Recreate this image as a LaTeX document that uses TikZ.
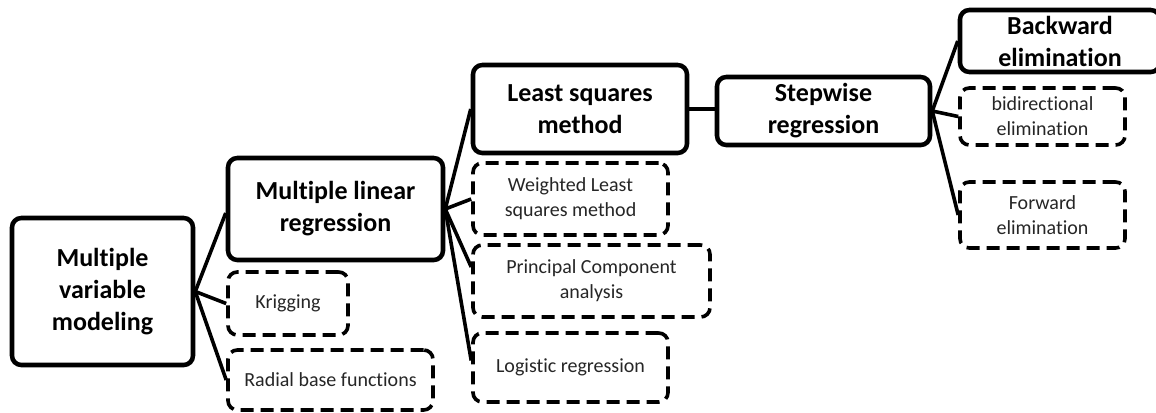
\documentclass[tikz,border=0pt]{standalone}
\usepackage{fontspec}
\setmainfont[Ligatures=NoCommon]{Carlito}
\usetikzlibrary{calc}
\begin{document}
\begin{tikzpicture}[x=0.75pt,y=-0.75pt,
 box/.style={draw, rounded corners=7pt, line width=3.4pt, inner sep=0pt, align=center, font=\fontsize{19.5}{24}\selectfont\bfseries},
 dbox/.style={draw, rounded corners=7pt, line width=2.7pt, dash pattern=on 9.75pt off 5.25pt, inner sep=0pt, align=center, font=\fontsize{15}{18.75}\selectfont, text=black!85},
 link/.style={line width=2.7pt}]
\clip (0,0) rectangle (1156,412);
\fill[white] (0,0) rectangle (1156,412);
% level 0
\node[box, minimum width=135.75pt, minimum height=110.25pt] (mvm) at (102.5,291.5) {Multiple\\variable\\modeling};
% level 1
\node[box, minimum width=161.25pt, minimum height=76.5pt] (mlr) at (335.5,209) {Multiple linear\\regression};
\node[dbox, minimum width=90pt, minimum height=47.25pt] (krig) at (288,303.5) {Krigging};
\node[dbox, minimum width=153.75pt, minimum height=45pt] (rbf) at (330.5,380) {Radial base functions};
% level 2
\node[box, minimum width=160.5pt, minimum height=66pt] (lsm) at (580,109) {Least squares\\method};
\node[dbox, minimum width=146.25pt, minimum height=54pt] (wls) at (570.5,199) {Weighted Least\\squares method};
\node[dbox, minimum width=177.75pt, minimum height=54pt] (pca) at (591.5,281) {Principal Component\\analysis};
\node[dbox, minimum width=146.25pt, minimum height=51.75pt] (logr) at (570.5,367.5) {Logistic regression};
% level 3
\node[box, minimum width=159.75pt, minimum height=51pt] (step) at (823.5,111) {Stepwise\\regression};
% level 4
\node[box, minimum width=150pt, minimum height=46.5pt] (back) at (1060,41) {Backward\\elimination};
\node[dbox, minimum width=123.75pt, minimum height=42.75pt] (bid) at (1042.5,116.5) {bidirectional\\elimination};
\node[dbox, minimum width=123.75pt, minimum height=49.5pt] (fwd) at (1042.5,215) {Forward\\elimination};
% connectors
\draw[link] (mvm.east) -- ($(mlr.west)+(0,4)$);
\draw[link] (mvm.east) -- (krig.west);
\draw[link] (mvm.east) -- (rbf.west);
\draw[link] (mlr.east) -- (lsm.west);
\draw[link] (mlr.east) -- (wls.west);
\draw[link] (mlr.east) -- ($(pca.west)+(0,-14)$);
\draw[link] (mlr.east) -- ($(logr.west)+(0,-7)$);
\draw[link] (lsm.east) -- (lsm.east -| step.west);
\draw[link] (step.east) -- (back.west);
\draw[link] (step.east) -- (bid.west);
\draw[link] (step.east) -- (fwd.west);
\end{tikzpicture}
\end{document}
